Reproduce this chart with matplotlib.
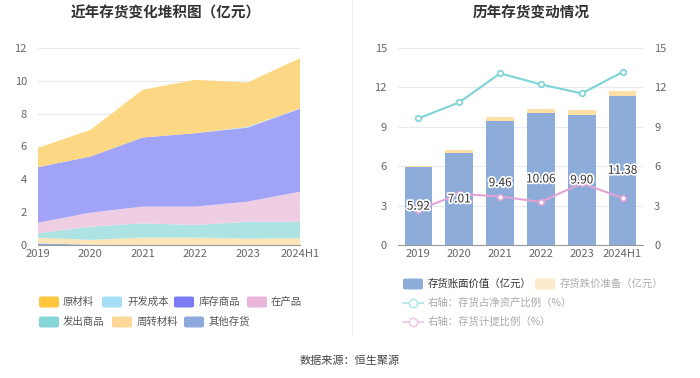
import matplotlib
matplotlib.use("Agg")
from matplotlib import pyplot as plt
from matplotlib.patches import FancyBboxPatch
from matplotlib.lines import Line2D
import matplotlib.patheffects as pe
import numpy as np

plt.rcParams['font.family'] = ['Noto Sans CJK SC', 'DejaVu Sans']

years = ['2019', '2020', '2021', '2022', '2023', '2024H1']

# left chart: inventory composition (亿元), bottom to top
other_inv = [0.10, 0.02, 0.00, 0.00, 0.00, 0.00]      # 其他存货
turnover_mat = [0.35, 0.29, 0.45, 0.45, 0.39, 0.41]   # 周转材料
shipped_goods = [0.26, 0.81, 0.87, 0.77, 1.03, 1.01]  # 发出商品
wip = [0.65, 0.85, 1.02, 1.12, 1.22, 1.83]            # 在产品
stock_goods = [3.38, 3.42, 4.21, 4.47, 4.51, 5.05]    # 库存商品
dev_cost = [0.00, 0.00, 0.00, 0.00, 0.05, 0.02]       # 开发成本
raw_mat = [1.18, 1.62, 2.91, 3.25, 2.70, 3.06]        # 原材料

# right chart
book_value = [5.92, 7.01, 9.46, 10.06, 9.90, 11.38]   # 存货账面价值
reserve = [0.11, 0.24, 0.28, 0.29, 0.40, 0.37]        # 存货跌价准备
pct_net_assets = [9.64, 10.86, 13.07, 12.23, 11.54, 13.17]
pct_provision = [2.67, 3.89, 3.69, 3.28, 4.70, 3.58]

W, H = 700, 378
fig = plt.figure(figsize=(7, 3.78), dpi=100)


def fx(px):
    return px / W


def fy(py):
    return 1 - py / H


grid_c = '#E6EAF3'
tick_c = '#666666'


def style_axis(ax):
    ax.grid(axis='y', color=grid_c, lw=0.8)
    ax.set_axisbelow(True)
    for s in ['top', 'right', 'left']:
        ax.spines[s].set_visible(False)
    ax.spines['bottom'].set_color('#999999')
    ax.tick_params(axis='y', length=0, labelsize=8, labelcolor=tick_c, pad=8)
    ax.tick_params(axis='x', length=0, labelsize=8, labelcolor=tick_c, pad=3)


# ---------------- left: stacked area ----------------
ax1 = fig.add_axes([fx(38), fy(245), fx(262), (245 - 48) / H])
x = np.arange(len(years))
layers = [other_inv, turnover_mat, shipped_goods, wip, stock_goods, dev_cost, raw_mat]
fill_cols = ['#8EAADC', '#FDE3B5', '#A9E3E2', '#EFCBE2', '#9C9FF6', '#AEE1F8', '#FDD67D']
ax1.stackplot(x, *layers, colors=fill_cols, alpha=0.95, linewidth=0)
ax1.set_xlim(0, len(years) - 1)
ax1.set_ylim(0, 12)
ax1.set_yticks(range(0, 13, 2))
ax1.set_xticks(x)
ax1.set_xticklabels(years)
style_axis(ax1)

# ---------------- right: bars + lines ----------------
ax2 = fig.add_axes([fx(398), fy(245), fx(245), (245 - 48) / H])
ax2.bar(x, book_value, width=0.68, color='#8DACDA', zorder=2)
ax2.bar(x, reserve, width=0.68, bottom=book_value, color='#FEDFA5', zorder=2)
ax2.set_xlim(-0.5, len(years) - 0.5)
ax2.set_ylim(0, 15)
ax2.set_yticks(range(0, 16, 3))
ax2.set_xticks(x)
ax2.set_xticklabels(years)
style_axis(ax2)

ax3 = ax2.twinx()
ax3.plot(x, pct_net_assets, color='#7DD3D6', lw=1.5, marker='o', ms=4,
         mfc='white', mec='#7DD3D6', mew=1.2, zorder=4)
ax3.plot(x, pct_provision, color='#E2A3D6', lw=1.5, marker='o', ms=4,
         mfc='white', mec='#E2A3D6', mew=1.2, zorder=4)
ax3.set_ylim(0, 15)
ax3.set_yticks(range(0, 16, 3))
for s in ['top', 'right', 'left', 'bottom']:
    ax3.spines[s].set_visible(False)
ax3.tick_params(axis='y', length=0, labelsize=8, labelcolor=tick_c, pad=8)

# value labels in the middle of each bar (both axes share 0-15)
for i, v in enumerate(book_value):
    ax3.text(i, v / 2, f'{v:.2f}', ha='center', va='center', fontsize=8.5,
             color='#333333', zorder=6,
             path_effects=[pe.withStroke(linewidth=2.5, foreground='white')])

# ---------------- titles, separator, source ----------------
fig.text(fx(166), fy(13), '近年存货变化堆积图（亿元）', ha='center', va='center',
         fontsize=10.5, fontweight='bold', color='#333333')
fig.text(fx(531), fy(13), '历年存货变动情况', ha='center', va='center',
         fontsize=10.5, fontweight='bold', color='#333333')
fig.add_artist(Line2D([fx(352), fx(352)], [fy(0), fy(335)], color='#F0F0F0', lw=0.8))
fig.text(fx(350), fy(361), '数据来源：恒生聚源', ha='center', va='center',
         fontsize=8, color='#444444')


# ---------------- legends ----------------
def swatch(px, py, color, w=20, h=11):
    fig.add_artist(FancyBboxPatch((fx(px), fy(py + h / 2)), fx(w), h / H,
                                  boxstyle='round,pad=0,rounding_size=0.004',
                                  transform=fig.transFigure, facecolor=color,
                                  edgecolor='none'))


left_leg = [
    ('原材料', '#FFC53D', 39, 63, 302),
    ('开发成本', '#A6DFF8', 102, 127, 302),
    ('库存商品', '#7B7CF2', 174, 199, 302),
    ('在产品', '#E8B5D8', 247, 271, 302),
    ('发出商品', '#86D7D7', 39, 63, 322),
    ('周转材料', '#FFD899', 112, 137, 322),
    ('其他存货', '#8EAADC', 184, 209, 322),
]
for name, c, sx, tx, ty in left_leg:
    swatch(sx, ty, c)
    fig.text(fx(tx), fy(ty), name, ha='left', va='center', fontsize=7.5, color='#555555')

swatch(403, 284, '#8DACDA')
fig.text(fx(428), fy(284), '存货账面价值（亿元）', ha='left', va='center',
         fontsize=7.5, color='#333333')
swatch(535, 284, '#FEEBCB')
fig.text(fx(560), fy(284), '存货跌价准备（亿元）', ha='left', va='center',
         fontsize=7.5, color='#AAAAAA')
for py, c, name in [(303, '#B5E8EA', '右轴：存货占净资产比例（%）'),
                    (322, '#F2CBE7', '右轴：存货计提比例（%）')]:
    fig.add_artist(Line2D([fx(403), fx(423)], [fy(py), fy(py)], color=c, lw=1.3))
    fig.add_artist(Line2D([fx(413)], [fy(py)], color=c, marker='o', ms=6,
                          mfc='white', mec=c, mew=1.2))
    fig.text(fx(428), fy(py), name, ha='left', va='center', fontsize=7.5, color='#AAAAAA')

fig.savefig('out.png', dpi=100, facecolor='white')
